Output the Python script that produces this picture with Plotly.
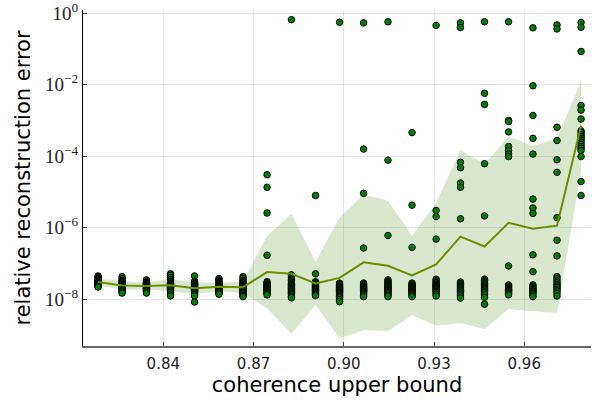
import numpy as np
import plotly.graph_objects as go

# coherence upper bound (x position of each column of trials)
coherence = [0.8183, 0.8263, 0.8344, 0.8424, 0.8504, 0.8585, 0.8665, 0.8745,
             0.8826, 0.8906, 0.8986, 0.9066, 0.9147, 0.9227, 0.9307, 0.9388,
             0.9468, 0.9548, 0.9629, 0.9709, 0.9789]

# log10 of relative reconstruction error, 20 trials per coherence value
log_err_01 = [-7.35,-7.37,-7.40,-7.42,-7.44,-7.45,-7.47,-7.49,-7.50,-7.52,-7.53,-7.54,-7.56,-7.57,-7.59,-7.60,-7.62,-7.63,-7.65,-7.66]
log_err_02 = [-7.37,-7.42,-7.47,-7.50,-7.53,-7.55,-7.57,-7.58,-7.60,-7.61,-7.62,-7.64,-7.65,-7.67,-7.69,-7.71,-7.74,-7.77,-7.80,-7.83]
log_err_03 = [-7.46,-7.49,-7.52,-7.54,-7.56,-7.57,-7.59,-7.60,-7.61,-7.62,-7.63,-7.64,-7.66,-7.67,-7.69,-7.71,-7.73,-7.76,-7.79,-7.83]
log_err_04 = [-7.29,-7.33,-7.40,-7.45,-7.49,-7.52,-7.55,-7.57,-7.59,-7.61,-7.62,-7.64,-7.66,-7.68,-7.70,-7.73,-7.77,-7.81,-7.86,-7.91]
log_err_05 = [-7.35,-7.50,-7.53,-7.56,-7.58,-7.60,-7.62,-7.64,-7.66,-7.68,-7.70,-7.72,-7.74,-7.76,-7.78,-7.80,-7.83,-7.87,-7.91,-8.08]
log_err_06 = [-7.42,-7.46,-7.50,-7.53,-7.56,-7.58,-7.60,-7.62,-7.64,-7.65,-7.67,-7.68,-7.70,-7.72,-7.74,-7.76,-7.78,-7.80,-7.83,-7.86]
log_err_07 = [-7.37,-7.42,-7.47,-7.51,-7.54,-7.57,-7.60,-7.62,-7.64,-7.66,-7.68,-7.70,-7.72,-7.74,-7.77,-7.80,-7.83,-7.86,-7.90,-7.93]
log_err_08 = [-4.52,-4.87,-5.59,-6.77,-7.51,-7.54,-7.57,-7.60,-7.62,-7.64,-7.66,-7.68,-7.70,-7.72,-7.74,-7.76,-7.79,-7.82,-7.85,-7.88]
log_err_09 = [-0.18,-7.32,-7.38,-7.44,-7.48,-7.52,-7.56,-7.59,-7.62,-7.65,-7.68,-7.70,-7.73,-7.76,-7.79,-7.82,-7.85,-7.88,-7.92,-7.96]
log_err_10 = [-5.10,-7.29,-7.51,-7.54,-7.57,-7.60,-7.62,-7.64,-7.66,-7.68,-7.70,-7.72,-7.74,-7.76,-7.78,-7.80,-7.83,-7.85,-7.87,-7.90]
log_err_11 = [-0.25,-7.55,-7.58,-7.61,-7.64,-7.67,-7.69,-7.71,-7.73,-7.75,-7.77,-7.79,-7.81,-7.83,-7.86,-7.89,-7.92,-7.96,-8.01,-8.07]
log_err_12 = [-0.27,-3.80,-5.04,-6.57,-7.55,-7.58,-7.61,-7.64,-7.66,-7.68,-7.70,-7.72,-7.74,-7.76,-7.78,-7.80,-7.83,-7.86,-7.89,-7.93]
log_err_13 = [-0.24,-4.11,-6.22,-7.46,-7.50,-7.53,-7.56,-7.59,-7.62,-7.65,-7.67,-7.69,-7.71,-7.73,-7.76,-7.79,-7.82,-7.85,-7.89,-7.93]
log_err_14 = [-3.34,-5.37,-6.55,-7.55,-7.58,-7.61,-7.63,-7.65,-7.67,-7.69,-7.71,-7.73,-7.75,-7.77,-7.79,-7.81,-7.84,-7.87,-7.90,-7.93]
log_err_15 = [-0.34,-5.52,-5.69,-6.32,-7.44,-7.48,-7.52,-7.55,-7.58,-7.61,-7.63,-7.65,-7.67,-7.70,-7.72,-7.75,-7.78,-7.82,-7.86,-7.91]
log_err_16 = [-0.27,-0.40,-4.17,-4.32,-4.75,-4.87,-5.75,-7.52,-7.56,-7.60,-7.63,-7.66,-7.69,-7.72,-7.75,-7.78,-7.82,-7.86,-7.91,-7.97]
log_err_17 = [-0.24,-2.24,-2.55,-4.21,-5.67,-7.44,-7.48,-7.52,-7.56,-7.60,-7.63,-7.66,-7.69,-7.72,-7.75,-7.79,-7.83,-7.88,-7.95,-8.14]
log_err_18 = [-0.24,-3.00,-3.03,-3.32,-3.73,-3.84,-3.94,-4.01,-7.07,-7.60,-7.63,-7.66,-7.69,-7.72,-7.74,-7.76,-7.79,-7.82,-7.85,-7.88]
log_err_19 = [-0.41,-2.03,-2.86,-3.50,-3.94,-5.20,-5.45,-5.60,-6.76,-7.23,-7.60,-7.64,-7.68,-7.71,-7.74,-7.77,-7.80,-7.84,-7.88,-7.93]
log_err_20 = [-0.33,-0.44,-3.19,-3.56,-4.10,-4.45,-5.72,-6.35,-6.79,-7.37,-7.43,-7.49,-7.54,-7.59,-7.63,-7.67,-7.72,-7.77,-7.83,-7.91]
log_err_21 = [-0.26,-0.39,-1.07,-2.58,-2.71,-2.96,-3.29,-3.34,-3.40,-3.45,-3.50,-3.55,-3.61,-3.67,-3.73,-3.78,-3.84,-4.01,-4.71,-5.10]

y_tick_exponents = [-8, -6, -4, -2, 0]
x_tick_values = [0.84, 0.87, 0.90, 0.93, 0.96]
x_tick_labels = ["0.84", "0.87", "0.90", "0.93", "0.96"]

columns = [log_err_01, log_err_02, log_err_03, log_err_04, log_err_05, log_err_06, log_err_07,
           log_err_08, log_err_09, log_err_10, log_err_11, log_err_12, log_err_13, log_err_14,
           log_err_15, log_err_16, log_err_17, log_err_18, log_err_19, log_err_20, log_err_21]

# statistics in log space: mean and sample standard deviation
mean_log = np.array([np.mean(c) for c in columns])
std_log = np.array([np.std(c, ddof=1) for c in columns])

pts_x, pts_y = [], []
for xv, col in zip(coherence, columns):
    for v in col:
        pts_x.append(xv)
        pts_y.append(10.0 ** v)

fig = go.Figure()
fig.add_trace(go.Scatter(x=coherence, y=10.0 ** (mean_log - std_log), mode="lines",
                         line=dict(width=0), hoverinfo="skip", showlegend=False))
fig.add_trace(go.Scatter(x=coherence, y=10.0 ** (mean_log + std_log), mode="lines",
                         line=dict(width=0), fill="tonexty",
                         fillcolor="rgba(100,160,60,0.25)", hoverinfo="skip", showlegend=False))
fig.add_trace(go.Scatter(x=pts_x, y=pts_y, mode="markers",
                         marker=dict(size=6.5, color="#008000", line=dict(color="black", width=1)),
                         showlegend=False))
fig.add_trace(go.Scatter(x=coherence, y=10.0 ** mean_log, mode="lines",
                         line=dict(color="#6B8E00", width=2), showlegend=False))

fig.update_layout(
    width=592, height=403,
    margin=dict(l=83, r=1, t=10, b=57),
    paper_bgcolor="white", plot_bgcolor="white",
    font=dict(family="DejaVu Sans", color="black"),
)
fig.update_xaxes(
    range=[0.8133, 0.9822], automargin=False,
    tickvals=x_tick_values, ticktext=x_tick_labels,
    tickfont=dict(family="DejaVu Sans", size=15, color="#222"),
    ticks="inside", ticklen=4, tickcolor="#444", ticklabelstandoff=3,
    showgrid=True, gridcolor="rgba(0,0,0,0.1)", gridwidth=1,
    showline=True, linecolor="#666", linewidth=1.5,
    zeroline=False, ticklabeloverflow="allow",
    title=dict(text="coherence upper bound", font=dict(size=21, family="DejaVu Sans"), standoff=4),
)
fig.update_yaxes(
    type="log", range=[-9.31, 0.09], automargin=False,
    tickvals=[10.0 ** e for e in y_tick_exponents],
    ticktext=["10<sup>%s</sup>" % (str(e).replace("-", "\u2212")) for e in y_tick_exponents],
    tickfont=dict(family="Liberation Serif", size=19, color="#222"),
    ticks="inside", ticklen=4, tickcolor="#444",
    showgrid=True, gridcolor="rgba(0,0,0,0.1)", gridwidth=1,
    showline=True, linecolor="black", linewidth=1,
    zeroline=False, ticklabeloverflow="allow",
    title=dict(text="relative reconstruction error", font=dict(size=21, family="DejaVu Sans"), standoff=8),
)

fig.write_html("out.html", config={"displayModeBar": False},
               post_script="document.body.style.margin='0';")
